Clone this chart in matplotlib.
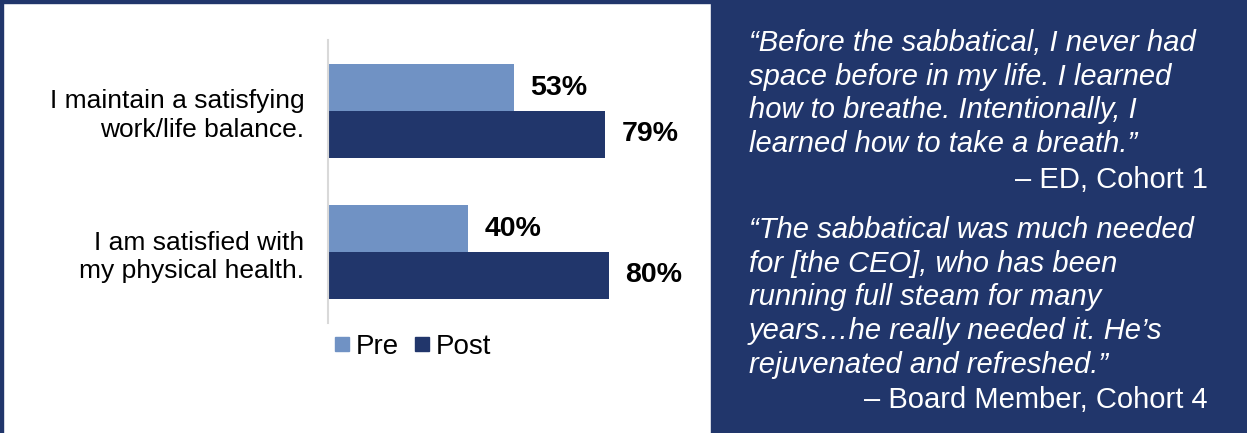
import matplotlib
matplotlib.use("Agg")
import matplotlib.pyplot as plt
from matplotlib.lines import Line2D
from matplotlib.patches import Rectangle
import numpy as np

plt.rcParams['font.family'] = ['Liberation Sans', 'DejaVu Sans']

categories = ["I maintain a satisfying\nwork/life balance.",
              "I am satisfied with\nmy physical health."]
pre = [53, 40]
post = [79, 80]
series_names = ["Pre", "Post"]

quote1 = ["\u201cBefore the sabbatical, I never had",
          "space before in my life. I learned",
          "how to breathe. Intentionally, I",
          "learned how to take a breath.\u201d"]
attr1 = "\u2013 ED, Cohort 1"
quote2 = ["\u201cThe sabbatical was much needed",
          "for [the CEO], who has been",
          "running full steam for many",
          "years\u2026he really needed it. He\u2019s",
          "rejuvenated and refreshed.\u201d"]
attr2 = "\u2013 Board Member, Cohort 4"

light = "#7092c4"
navy = "#21366b"

W, H = 1247, 433
fig = plt.figure(figsize=(W / 100, H / 100), dpi=100)
fig.patch.set_facecolor("white")

# frame and quote panel
fig.add_artist(Rectangle((0, 0), 3 / W, 1, transform=fig.transFigure, color=navy, zorder=0))
fig.add_artist(Rectangle((0, 1 - 3 / H), 1, 3 / H, transform=fig.transFigure, color=navy, zorder=0))
fig.add_artist(Rectangle((711 / W, 0), 1 - 711 / W, 1 - 2 / H, transform=fig.transFigure,
                         color=navy, zorder=0))

# bar chart
ax = fig.add_axes([328 / W, (H - 323) / H, 380 / W, 283 / H])
ax.set_facecolor("none")
y = np.arange(len(categories))
h = 0.333
b1 = ax.barh(y - h / 2, pre, height=h, color=light, label=series_names[0])
b2 = ax.barh(y + h / 2, post, height=h, color=navy, label=series_names[1])
for bars, vals in ((b1, pre), (b2, post)):
    for bar, v in zip(bars, vals):
        ax.annotate(f"{v}%", (bar.get_width(), bar.get_y() + bar.get_height() / 2),
                    xytext=(11.5, 0), textcoords="offset points", va="center", ha="left",
                    fontsize=20.5, fontweight="bold", color="black")

ax.set_xlim(0, 380 / 3.51)
ax.set_ylim(1.5035, -0.5035)
ax.set_yticks(y, categories, fontsize=19, linespacing=1.22)
ax.tick_params(axis="y", length=0, pad=17)
ax.set_xticks([])
for s in ("top", "right", "bottom"):
    ax.spines[s].set_visible(False)
ax.spines["left"].set_color("#d9d9d9")
ax.spines["left"].set_linewidth(1.5)

handles = [Line2D([], [], marker="s", linestyle="none", markersize=10.5, color=light),
           Line2D([], [], marker="s", linestyle="none", markersize=10.5, color=navy)]
fig.legend(handles, series_names, loc="center left", bbox_to_anchor=(332 / W, 1 - 347 / H),
           ncol=2, frameon=False, fontsize=20, handlelength=0.7, handletextpad=0.15,
           columnspacing=0.5, borderaxespad=0, borderpad=0)

# quotes
step = 33.7
qsize = 21
for i, line in enumerate(quote1):
    fig.text(749 / W, 1 - (51 + i * step) / H, line, color="white", fontsize=qsize,
             style="italic", ha="left", va="baseline")
fig.text(1208 / W, 1 - (51 + 4 * step + 2) / H, attr1, color="white", fontsize=qsize,
         ha="right", va="baseline")
for i, line in enumerate(quote2):
    fig.text(749 / W, 1 - (238 + i * step) / H, line, color="white", fontsize=qsize,
             style="italic", ha="left", va="baseline")
fig.text(1208 / W, 1 - (238 + 5 * step + 2) / H, attr2, color="white", fontsize=qsize,
         ha="right", va="baseline")

fig.savefig("out.png", dpi=100)
